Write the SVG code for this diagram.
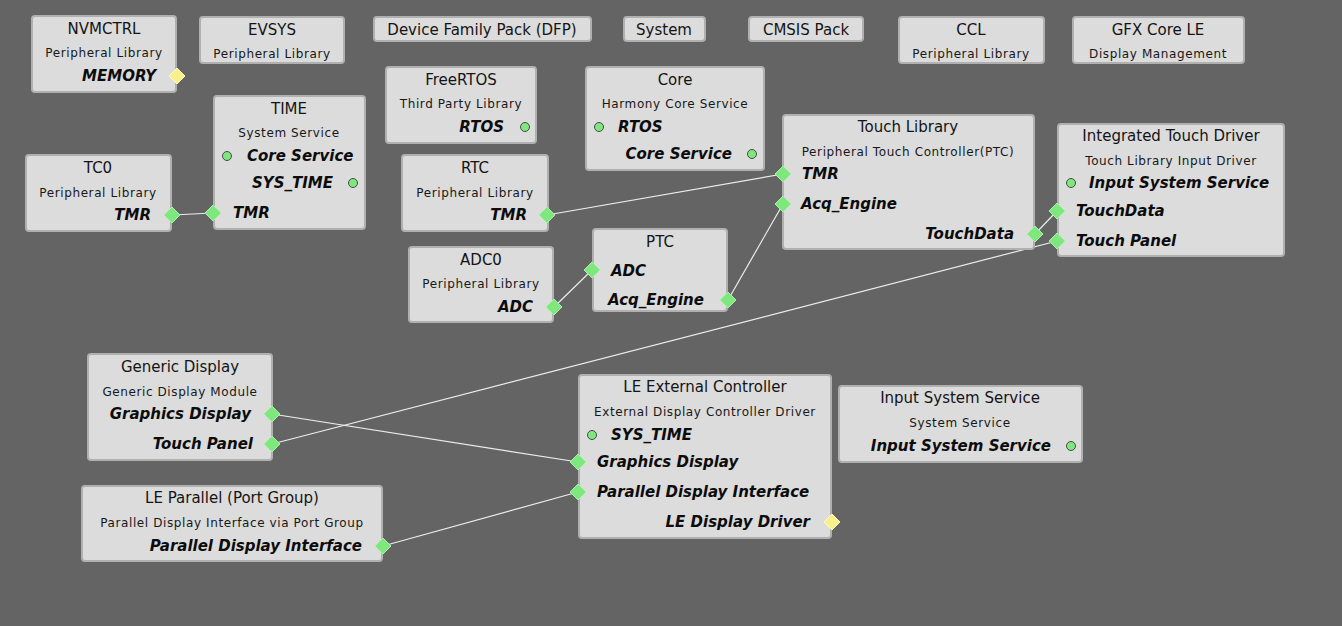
<svg xmlns="http://www.w3.org/2000/svg" width="1342" height="626" viewBox="0 0 1342 626">
<style>
.bg{fill:#646464}
.box{fill:#dcdcdc;stroke:#b0b0b0;stroke-width:2}
.t{font-family:"DejaVu Sans",Verdana,sans-serif;font-size:15px;fill:#141414;text-anchor:middle}
.s{font-family:"DejaVu Sans",Verdana,sans-serif;font-size:12px;fill:#181818;text-anchor:middle;letter-spacing:0.6px}
.p{font-family:"DejaVu Sans",Verdana,sans-serif;font-size:15px;font-weight:bold;font-style:italic;fill:#0c0c0c}
.r{text-anchor:end}
.dg{fill:#7ee87e;stroke:#a8f0a8;stroke-width:1}
.dy{fill:#f8f08a;stroke:#fffac0;stroke-width:1}
.c{fill:#7ee87e;stroke:#4a4a4a;stroke-width:1}
.ln{stroke:#ececec;stroke-width:1.2;fill:none}
</style>
<defs>
<polygon id="dia" points="0,-8 8,0 0,8 -8,0"/>
</defs>
<rect class="bg" x="0" y="0" width="1342" height="626"/>

<g id="connectors">
<line class="ln" x1="172" y1="215" x2="213" y2="213"/>
<line class="ln" x1="547" y1="215" x2="783" y2="174"/>
<line class="ln" x1="554" y1="307" x2="592" y2="270"/>
<line class="ln" x1="728" y1="300" x2="783" y2="204"/>
<line class="ln" x1="1035" y1="234" x2="1057" y2="211"/>
<line class="ln" x1="1057" y1="241" x2="272" y2="444"/>
<line class="ln" x1="272" y1="414" x2="578" y2="462"/>
<line class="ln" x1="383" y1="546" x2="578" y2="492"/>
</g>

<g id="nvmctrl">
<rect class="box" x="32" y="16" width="144" height="76" rx="3"/>
<text class="t" x="104" y="34">NVMCTRL</text>
<text class="s" x="104" y="57">Peripheral Library</text>
<text class="p r" x="156" y="81">MEMORY</text>
<use href="#dia" class="dy" x="177" y="76"/>
</g>

<g id="evsys">
<rect class="box" x="200" y="17" width="144" height="46" rx="3"/>
<text class="t" x="272" y="35">EVSYS</text>
<text class="s" x="272" y="58">Peripheral Library</text>
</g>

<g id="dfp">
<rect class="box" x="374" y="17" width="217" height="24" rx="3"/>
<text class="t" x="482" y="35">Device Family Pack (DFP)</text>
</g>

<g id="system">
<rect class="box" x="624" y="17" width="81" height="24" rx="3"/>
<text class="t" x="664" y="35">System</text>
</g>

<g id="cmsis">
<rect class="box" x="749" y="17" width="114" height="24" rx="3"/>
<text class="t" x="806" y="35">CMSIS Pack</text>
</g>

<g id="ccl">
<rect class="box" x="899" y="17" width="145" height="46" rx="3"/>
<text class="t" x="971" y="35">CCL</text>
<text class="s" x="971" y="58">Peripheral Library</text>
</g>

<g id="gfxcore">
<rect class="box" x="1073" y="17" width="171" height="46" rx="3"/>
<text class="t" x="1158" y="35">GFX Core LE</text>
<text class="s" x="1158" y="58">Display Management</text>
</g>

<g id="freertos">
<rect class="box" x="386" y="67" width="150" height="76" rx="3"/>
<text class="t" x="461" y="85">FreeRTOS</text>
<text class="s" x="461" y="108">Third Party Library</text>
<text class="p r" x="504" y="132">RTOS</text>
<circle class="c" cx="525" cy="127" r="4.5"/>
</g>

<g id="core">
<rect class="box" x="586" y="67" width="178" height="103" rx="3"/>
<text class="t" x="675" y="85">Core</text>
<text class="s" x="675" y="108">Harmony Core Service</text>
<circle class="c" cx="599" cy="127" r="4.5"/>
<text class="p" x="618" y="132">RTOS</text>
<text class="p r" x="732" y="159">Core Service</text>
<circle class="c" cx="752" cy="154" r="4.5"/>
</g>

<g id="time">
<rect class="box" x="214" y="96" width="151" height="133" rx="3"/>
<text class="t" x="289" y="114">TIME</text>
<text class="s" x="289" y="137">System Service</text>
<circle class="c" cx="227" cy="156" r="4.5"/>
<text class="p" x="247" y="161">Core Service</text>
<text class="p r" x="333" y="188">SYS_TIME</text>
<circle class="c" cx="353" cy="183" r="4.5"/>
<text class="p" x="233" y="218">TMR</text>
<use href="#dia" class="dg" x="213" y="213"/>
</g>

<g id="tc0">
<rect class="box" x="26" y="155" width="145" height="76" rx="3"/>
<text class="t" x="98" y="173">TC0</text>
<text class="s" x="98" y="197">Peripheral Library</text>
<text class="p r" x="151" y="220">TMR</text>
<use href="#dia" class="dg" x="172" y="215"/>
</g>

<g id="rtc">
<rect class="box" x="402" y="155" width="146" height="76" rx="3"/>
<text class="t" x="475" y="173">RTC</text>
<text class="s" x="475" y="197">Peripheral Library</text>
<text class="p r" x="527" y="220">TMR</text>
<use href="#dia" class="dg" x="547" y="215"/>
</g>

<g id="adc0">
<rect class="box" x="409" y="247" width="144" height="75" rx="3"/>
<text class="t" x="481" y="265">ADC0</text>
<text class="s" x="481" y="288">Peripheral Library</text>
<text class="p r" x="533" y="312">ADC</text>
<use href="#dia" class="dg" x="554" y="307"/>
</g>

<g id="ptc">
<rect class="box" x="593" y="229" width="134" height="82" rx="3"/>
<text class="t" x="660" y="247">PTC</text>
<text class="p" x="611" y="276">ADC</text>
<use href="#dia" class="dg" x="592" y="270"/>
<text class="p" x="608" y="305">Acq_Engine</text>
<use href="#dia" class="dg" x="728" y="300"/>
</g>

<g id="touchlib">
<rect class="box" x="783" y="115" width="251" height="134" rx="3"/>
<text class="t" x="908" y="132">Touch Library</text>
<text class="s" x="908" y="156">Peripheral Touch Controller(PTC)</text>
<text class="p" x="802" y="179">TMR</text>
<use href="#dia" class="dg" x="783" y="174"/>
<text class="p" x="801" y="209">Acq_Engine</text>
<use href="#dia" class="dg" x="783" y="204"/>
<text class="p r" x="1014" y="239">TouchData</text>
<use href="#dia" class="dg" x="1035" y="234"/>
</g>

<g id="itd">
<rect class="box" x="1058" y="124" width="226" height="132" rx="3"/>
<text class="t" x="1171" y="141">Integrated Touch Driver</text>
<text class="s" x="1171" y="165">Touch Library Input Driver</text>
<circle class="c" cx="1071" cy="183" r="4.5"/>
<text class="p" x="1089" y="188">Input System Service</text>
<text class="p" x="1076" y="216">TouchData</text>
<use href="#dia" class="dg" x="1057" y="211"/>
<text class="p" x="1076" y="246">Touch Panel</text>
<use href="#dia" class="dg" x="1057" y="241"/>
</g>

<g id="genericdisplay">
<rect class="box" x="88" y="354" width="184" height="106" rx="3"/>
<text class="t" x="180" y="372">Generic Display</text>
<text class="s" x="180" y="396">Generic Display Module</text>
<text class="p r" x="251" y="419">Graphics Display</text>
<use href="#dia" class="dg" x="272" y="414"/>
<text class="p r" x="253" y="449">Touch Panel</text>
<use href="#dia" class="dg" x="272" y="444"/>
</g>

<g id="leparallel">
<rect class="box" x="82" y="486" width="300" height="75" rx="3"/>
<text class="t" x="232" y="503">LE Parallel (Port Group)</text>
<text class="s" x="232" y="527">Parallel Display Interface via Port Group</text>
<text class="p r" x="362" y="551">Parallel Display Interface</text>
<use href="#dia" class="dg" x="383" y="546"/>
</g>

<g id="leext">
<rect class="box" x="579" y="375" width="252" height="163" rx="3"/>
<text class="t" x="705" y="392">LE External Controller</text>
<text class="s" x="705" y="416">External Display Controller Driver</text>
<circle class="c" cx="592" cy="435" r="4.5"/>
<text class="p" x="611" y="440">SYS_TIME</text>
<text class="p" x="597" y="467">Graphics Display</text>
<use href="#dia" class="dg" x="578" y="462"/>
<text class="p" x="597" y="497">Parallel Display Interface</text>
<use href="#dia" class="dg" x="578" y="492"/>
<text class="p r" x="810" y="527">LE Display Driver</text>
<use href="#dia" class="dy" x="832" y="522"/>
</g>

<g id="inputsys">
<rect class="box" x="839" y="386" width="243" height="76" rx="3"/>
<text class="t" x="960" y="403">Input System Service</text>
<text class="s" x="960" y="427">System Service</text>
<text class="p r" x="1051" y="451">Input System Service</text>
<circle class="c" cx="1071" cy="446" r="4.5"/>
</g>
</svg>
